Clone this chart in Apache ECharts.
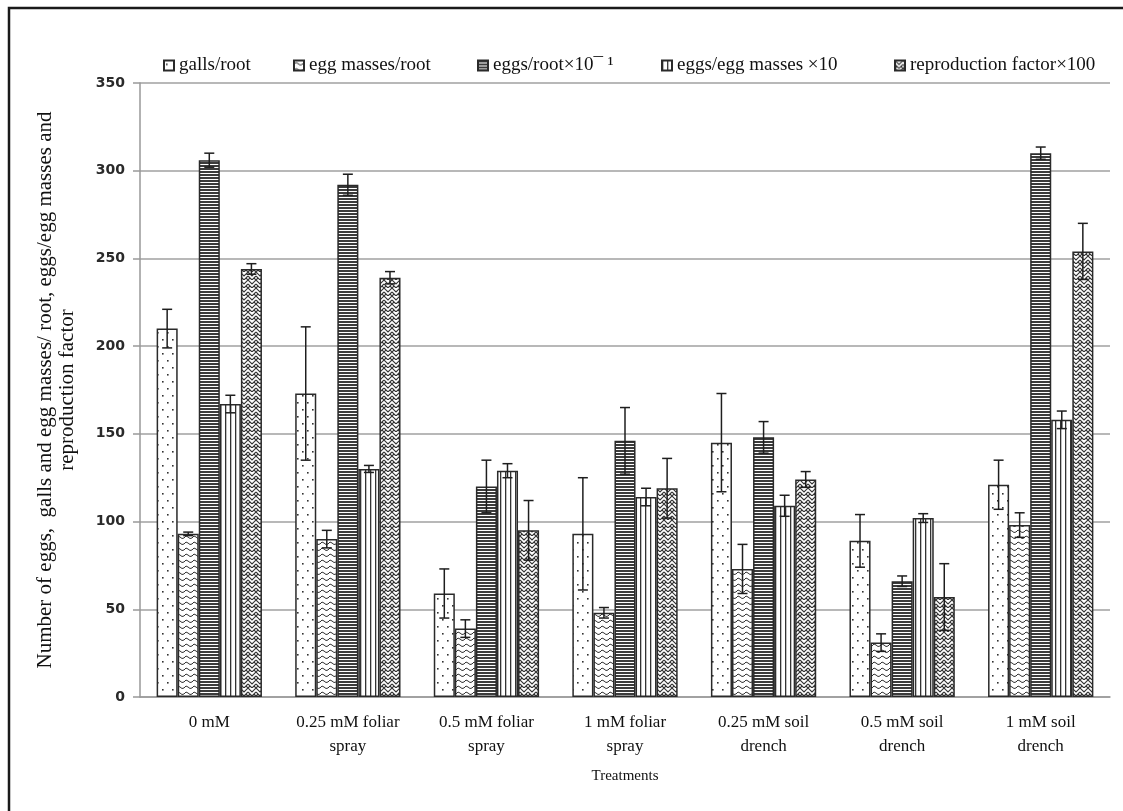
<!DOCTYPE html>
<html>
<head>
<meta charset="utf-8">
<script src="https://cdn.jsdelivr.net/npm/echarts@6/dist/echarts.min.js"></script>
<style>
  html, body { margin: 0; padding: 0; background: #fff; }
  #chart { width: 1123px; height: 811px; }
</style>
</head>
<body>
<div id="chart"></div>
<script>
// categories and series
var treatments = ['0 mM', '0.25 mM foliar\nspray', '0.5 mM foliar\nspray', '1 mM foliar\nspray',
  '0.25 mM soil\ndrench', '0.5 mM soil\ndrench', '1 mM soil\ndrench']
var seriesNames = ['galls/root', 'egg masses/root', 'eggs/root×10¯ ¹', 'eggs/egg masses ×10', 'reproduction factor×100']

var galls = [210, 173, 59, 93, 145, 89, 121]
var eggMasses = [93, 90, 39, 48, 73, 31, 98]
var eggsRoot = [306, 292, 120, 146, 148, 66, 310]
var eggsPerMass = [167, 130, 129, 114, 109, 102, 158]
var reproFactor = [244, 239, 95, 119, 124, 57, 254]

// error (± half length of error bars)
var gallsErr = [11, 38, 14, 32, 28, 15, 14]
var eggMassesErr = [1, 5, 5, 3, 14, 5, 7]
var eggsRootErr = [4, 6, 15, 19, 9, 3, 3.5]
var eggsPerMassErr = [5, 2, 4, 5, 6, 2.5, 5]
var reproFactorErr = [3, 3.5, 17, 17, 4.5, 19, 16]

var yTicks = [0, 50, 100, 150, 200, 250, 300, 350]

var values = [galls, eggMasses, eggsRoot, eggsPerMass, reproFactor]
var errors = [gallsErr, eggMassesErr, eggsRootErr, eggsPerMassErr, reproFactorErr]

// fill patterns
function makePattern (w, h, draw) {
  var c = document.createElement('canvas')
  c.width = w
  c.height = h
  var ctx = c.getContext('2d')
  ctx.fillStyle = '#fff'
  ctx.fillRect(0, 0, w, h)
  draw(ctx)
  return { image: c, repeat: 'repeat' }
}
var patterns = [
  // dots
  makePattern(10, 14, function (ctx) {
    ctx.fillStyle = '#333'
    ctx.fillRect(2, 3, 1.6, 1.6)
    ctx.fillRect(7, 10, 1.6, 1.6)
  }),
  // waves
  makePattern(8, 6, function (ctx) {
    ctx.strokeStyle = '#333'
    ctx.lineWidth = 1
    ctx.beginPath()
    ctx.moveTo(0, 4)
    ctx.quadraticCurveTo(2, 0.5, 4, 3)
    ctx.quadraticCurveTo(6, 5.5, 8, 4)
    ctx.stroke()
  }),
  // horizontal lines
  makePattern(4, 3, function (ctx) {
    ctx.fillStyle = '#3c3c3c'
    ctx.fillRect(0, 0, 4, 2)
  }),
  // vertical lines
  makePattern(5, 4, function (ctx) {
    ctx.fillStyle = '#333'
    ctx.fillRect(0, 0, 1.3, 4)
  }),
  // herringbone
  makePattern(8, 8, function (ctx) {
    ctx.strokeStyle = '#333'
    ctx.lineWidth = 1.1
    ctx.beginPath()
    ctx.moveTo(0, 0); ctx.lineTo(4, 4); ctx.lineTo(8, 0)
    ctx.moveTo(0, 4); ctx.lineTo(4, 8); ctx.lineTo(8, 4)
    ctx.moveTo(0, 8); ctx.lineTo(2, 6)
    ctx.moveTo(8, 8); ctx.lineTo(6, 6)
    ctx.stroke()
  })
]

var CAT_GAP = 0.24
var serif = 'Liberation Serif'

var chart = echarts.init(document.getElementById('chart'))

var series = []
values.forEach(function (vals, k) {
  series.push({
    name: seriesNames[k],
    type: 'bar',
    data: vals,
    barGap: 0,
    barCategoryGap: (CAT_GAP * 100) + '%',
    itemStyle: {
      color: patterns[k],
      borderColor: '#2a2a2a',
      borderWidth: 1.5
    },
    emphasis: { disabled: true }
  })
})
values.forEach(function (vals, k) {
  series.push({
    name: 'err' + k,
    type: 'custom',
    z: 5,
    silent: true,
    data: vals.map(function (v, i) { return [i, v, errors[k][i]] }),
    renderItem: function (params, api) {
      var cat = api.value(0)
      var v = api.value(1)
      var e = api.value(2)
      var band = api.size([1, 0])[0]
      var bw = band * (1 - CAT_GAP) / values.length
      var x = api.coord([cat, v])[0] + (k - (values.length - 1) / 2) * bw
      var yHi = api.coord([cat, v + e])[1]
      var yLo = api.coord([cat, v - e])[1]
      var cap = 5
      var st = { stroke: '#1e1e1e', lineWidth: 1.5 }
      return {
        type: 'group',
        children: [
          { type: 'line', shape: { x1: x, y1: yHi, x2: x, y2: yLo }, style: st },
          { type: 'line', shape: { x1: x - cap, y1: yHi, x2: x + cap, y2: yHi }, style: st },
          { type: 'line', shape: { x1: x - cap, y1: yLo, x2: x + cap, y2: yLo }, style: st }
        ]
      }
    }
  })
})

var legendLefts = [158, 288, 472, 656, 889]
var legends = seriesNames.map(function (n, k) {
  return {
    data: [{ name: n, icon: 'rect' }],
    left: legendLefts[k],
    top: 51,
    itemWidth: 10,
    itemHeight: 10,
    itemGap: 0,
    selectedMode: false,
    textStyle: { fontFamily: serif, fontSize: 19, color: '#111' }
  }
})

var option = {
  animation: false,
  backgroundColor: '#fff',
  legend: legends,
  graphic: [{
    type: 'rect',
    shape: { x: 9, y: 8, width: 1140, height: 840 },
    style: { fill: 'none', stroke: '#1a1a1a', lineWidth: 2.5 },
    silent: true
  }],
  grid: { left: 140, right: 13, top: 83, bottom: 114 },
  xAxis: {
    type: 'category',
    data: treatments,
    name: 'Treatments',
    nameLocation: 'middle',
    nameGap: 72,
    nameTextStyle: { fontFamily: serif, fontSize: 15, color: '#111' },
    axisLine: { lineStyle: { color: '#999', width: 1.5 } },
    axisTick: { show: false },
    axisLabel: {
      interval: 0,
      margin: 14,
      fontFamily: serif,
      fontSize: 17,
      lineHeight: 24,
      color: '#111'
    }
  },
  yAxis: {
    type: 'value',
    min: yTicks[0],
    max: yTicks[yTicks.length - 1],
    interval: yTicks[1] - yTicks[0],
    name: 'Number of eggs,  galls and egg masses/ root, eggs/egg masses and\nreproduction factor',
    nameLocation: 'middle',
    nameGap: 62,
    nameTextStyle: { fontFamily: serif, fontSize: 21, lineHeight: 22, color: '#111' },
    axisLine: { show: true, lineStyle: { color: '#999', width: 1.5 } },
    axisTick: { show: true, length: 7, lineStyle: { color: '#999', width: 1.5 } },
    axisLabel: {
      margin: 15,
      fontFamily: 'DejaVu Sans',
      fontSize: 14,
      fontWeight: 'bold',
      color: '#2a2a2a'
    },
    splitLine: { lineStyle: { color: '#a0a0a0', width: 1.5 } }
  },
  series: series
}
chart.setOption(option)
</script>
</body>
</html>
